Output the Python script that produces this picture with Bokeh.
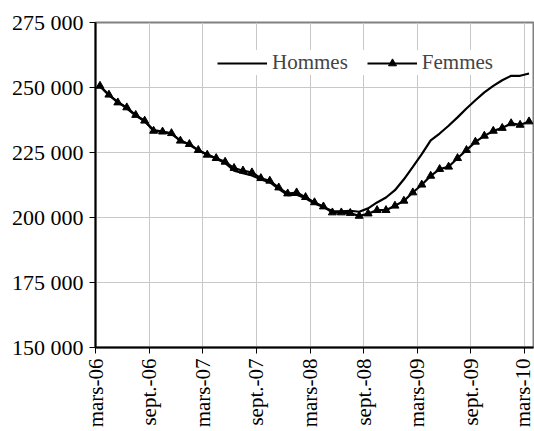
from bokeh.plotting import figure
from bokeh.models import FixedTicker, Legend, Range1d
from bokeh.embed import file_html
from bokeh.resources import INLINE
import math

months = [
    "mars-06", "avr.-06", "mai-06", "juin-06", "juil.-06", "août-06", "sept.-06", "oct.-06", "nov.-06", "déc.-06",
    "janv.-07", "févr.-07", "mars-07", "avr.-07", "mai-07", "juin-07", "juil.-07", "août-07", "sept.-07", "oct.-07",
    "nov.-07", "déc.-07", "janv.-08", "févr.-08", "mars-08", "avr.-08", "mai-08", "juin-08", "juil.-08", "août-08",
    "sept.-08", "oct.-08", "nov.-08", "déc.-08", "janv.-09", "févr.-09", "mars-09", "avr.-09", "mai-09", "juin-09",
    "juil.-09", "août-09", "sept.-09", "oct.-09", "nov.-09", "déc.-09", "janv.-10", "févr.-10", "mars-10",
]

hommes = [
    250500, 247000, 244600, 242000, 239200, 237000, 233600, 233000, 232200, 229600,
    228000, 225800, 224300, 222600, 221000, 218000, 217000, 216200, 214600, 213600,
    211000, 208600, 208800, 207400, 205400, 204000, 202500, 202400, 202600, 202200,
    203500, 205800, 207700, 210500, 214700, 219500, 224400, 229700, 232300, 235300,
    238500, 241900, 245100, 248100, 250600, 252800, 254500, 254500, 255400,
]

femmes = [
    250600, 247200, 244200, 242300, 239400, 237200, 233300, 233000, 232400, 229500,
    228200, 225900, 224100, 222800, 221400, 219000, 218000, 217300, 215100, 214100,
    211500, 209200, 209600, 207800, 205800, 204200, 201900, 201900, 201700, 200600,
    201500, 202800, 202800, 204500, 206400, 209600, 212600, 216000, 218600, 219500,
    222800, 225900, 229100, 231400, 233300, 234400, 236200, 235600, 236900,
]

y_ticks = [150000, 175000, 200000, 225000, 250000, 275000]
y_labels = ["150 000", "175 000", "200 000", "225 000", "250 000", "275 000"]

FONT = "Liberation Serif"

# each month occupies one unit on the axis, the point sits in its middle
xs = [i + 0.5 for i in range(len(months))]
x_tick_pos = [i for i in range(0, len(months), 6)]
x_tick_labels = {i: months[i] for i in x_tick_pos}

p = figure(width=534, height=431, output_backend="svg", toolbar_location=None,
           x_range=Range1d(0, len(months)), y_range=Range1d(150000, 275000),
           min_border_left=95, min_border_right=1, min_border_top=22, min_border_bottom=84)

p.background_fill_color = "white"
p.border_fill_color = "white"
p.outline_line_color = "#808080"
p.outline_line_width = 2

p.xgrid.ticker = FixedTicker(ticks=x_tick_pos)
p.ygrid.ticker = FixedTicker(ticks=y_ticks)
p.xgrid.grid_line_color = "#c8c8c8"
p.ygrid.grid_line_color = "#c8c8c8"
p.xgrid.grid_line_width = 1
p.ygrid.grid_line_width = 1

xa = p.xaxis[0]
xa.ticker = FixedTicker(ticks=x_tick_pos)
xa.major_label_overrides = x_tick_labels
xa.major_label_orientation = math.pi / 2
xa.minor_tick_line_color = None
xa.major_tick_out = 6
xa.major_tick_in = 0
xa.axis_line_color = "black"
xa.axis_line_width = 2
xa.major_label_text_font = FONT
xa.major_label_text_font_size = "21px"
xa.major_label_text_color = "black"
xa.major_label_standoff = 5

ya = p.yaxis[0]
ya.ticker = FixedTicker(ticks=y_ticks)
ya.major_label_overrides = {t: l for t, l in zip(y_ticks, y_labels)}
ya.minor_tick_line_color = None
ya.major_tick_out = 6
ya.major_tick_in = 0
ya.axis_line_color = "black"
ya.axis_line_width = 2
ya.major_label_text_font = FONT
ya.major_label_text_font_size = "22px"
ya.major_label_text_color = "black"
ya.major_label_standoff = 6

r_h = p.line(xs, hommes, line_color="black", line_width=2.2)
r_fl = p.line(xs, femmes, line_color="black", line_width=2.2)
r_fm = p.scatter(xs, femmes, marker="triangle", size=8, fill_color="black", line_color="black")

legend = Legend(items=[("Hommes", [r_h]), ("Femmes", [r_fl, r_fm])],
                location=(122, 272), orientation="horizontal",
                label_text_font=FONT, label_text_font_size="21px",
                glyph_width=50, glyph_height=20, label_standoff=5, spacing=19,
                padding=6, margin=0, border_line_color=None,
                background_fill_color="white", background_fill_alpha=1.0)
p.add_layout(legend)

open("out.html", "w").write(file_html(p, INLINE))
